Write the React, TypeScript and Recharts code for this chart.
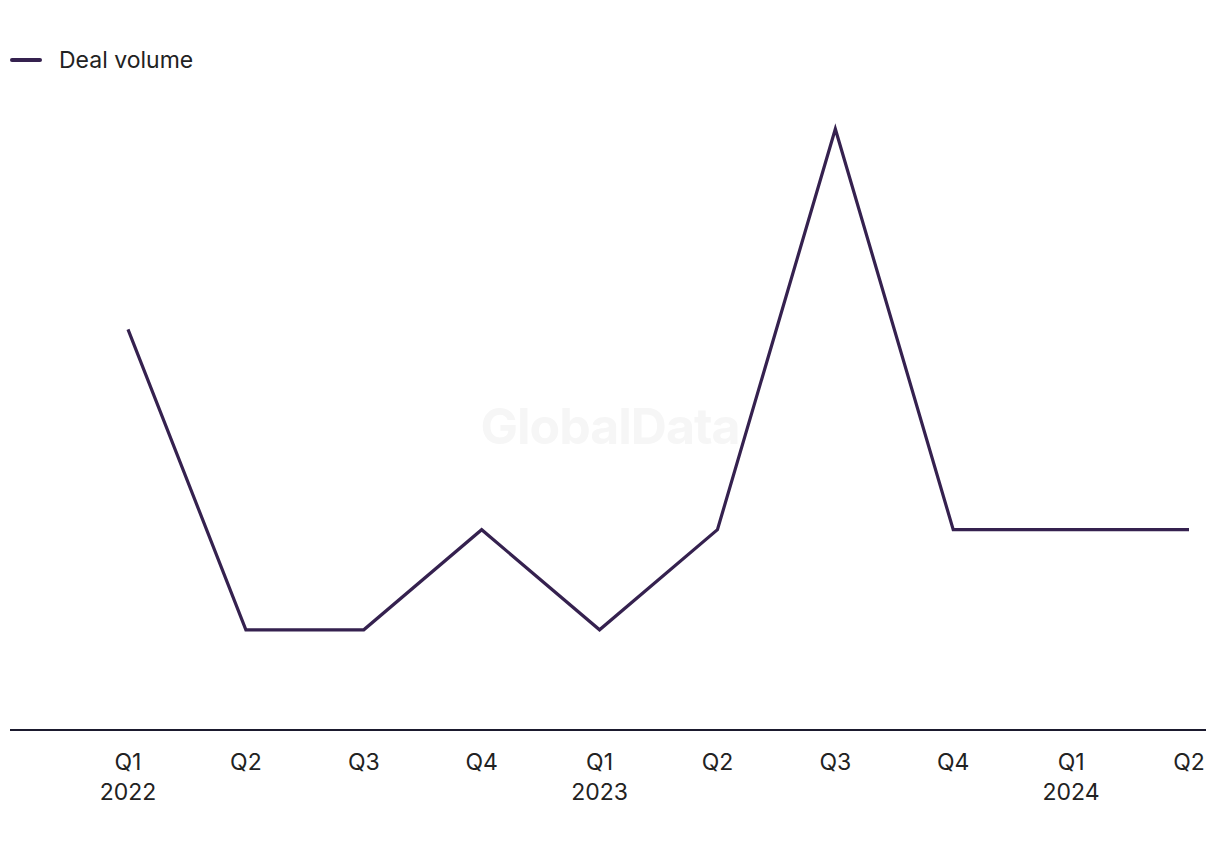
import { LineChart, Line, XAxis, YAxis } from "recharts";

const LINE_COLOR = "#35214f";
const AXIS_COLOR = "#1b1a2e";
const TEXT_COLOR = "#222222";
const FONT = "Inter, 'Noto Sans', sans-serif";

const quarters = ["Q1", "Q2", "Q3", "Q4", "Q1", "Q2", "Q3", "Q4", "Q1", "Q2"];
const years = ["2022", "", "", "", "2023", "", "", "", "2024", ""];
const dealVolume = [4, 1, 1, 2, 1, 2, 6, 2, 2, 2];

const data = quarters.map((q, i) => ({
  key: `${q}-${i}`,
  quarter: q,
  year: years[i],
  volume: dealVolume[i],
}));

function QuarterTick(props: any) {
  const { x, y, payload } = props;
  const row = data[payload.index] ?? data.find((d) => d.key === payload.value);
  return (
    <text x={x} y={y} textAnchor="middle" fill={TEXT_COLOR} fontFamily={FONT} fontSize={23} fontWeight={400}>
      <tspan x={x} dy={32}>{row?.quarter}</tspan>
      {row?.year ? (
        <tspan x={x} dy={30}>{row.year}</tspan>
      ) : null}
    </text>
  );
}

export default function App() {
  return (
    <div style={{ position: "absolute", left: 0, top: 0, width: 1220, height: 850, background: "#fff" }}>
      <div
        style={{
          position: "absolute",
          left: 0,
          top: 396,
          width: 1220,
          textAlign: "center",
          fontFamily: FONT,
          fontWeight: 700,
          fontSize: 50,
          color: "#f6f6f6",
          letterSpacing: -1,
        }}
      >
        GlobalData
      </div>
      <div
        style={{
          position: "absolute",
          left: 10,
          top: 46,
          display: "flex",
          alignItems: "center",
          fontFamily: FONT,
          fontSize: 23,
          fontWeight: 400,
          color: TEXT_COLOR,
        }}
      >
        <span style={{ display: "inline-block", width: 32, height: 4, background: LINE_COLOR, borderRadius: 2, marginRight: 17 }} />
        Deal volume
      </div>
      <LineChart
        width={1220}
        height={850}
        data={data}
        margin={{ top: 129, right: 14, bottom: 60, left: 10 }}
        style={{ position: "absolute", left: 0, top: 0 }}
      >
        <XAxis
          dataKey="key"
          type="category"
          interval={0}
          tickLine={false}
          axisLine={{ stroke: AXIS_COLOR, strokeWidth: 2 }}
          tick={<QuarterTick />}
          padding={{ left: 118, right: 17 }}
          height={60}
        />
        <YAxis hide domain={[0, 6]} />
        <Line
          type="linear"
          dataKey="volume"
          stroke={LINE_COLOR}
          strokeWidth={3.2}
          dot={false}
          activeDot={false}
          isAnimationActive={false}
        />
      </LineChart>
    </div>
  );
}
